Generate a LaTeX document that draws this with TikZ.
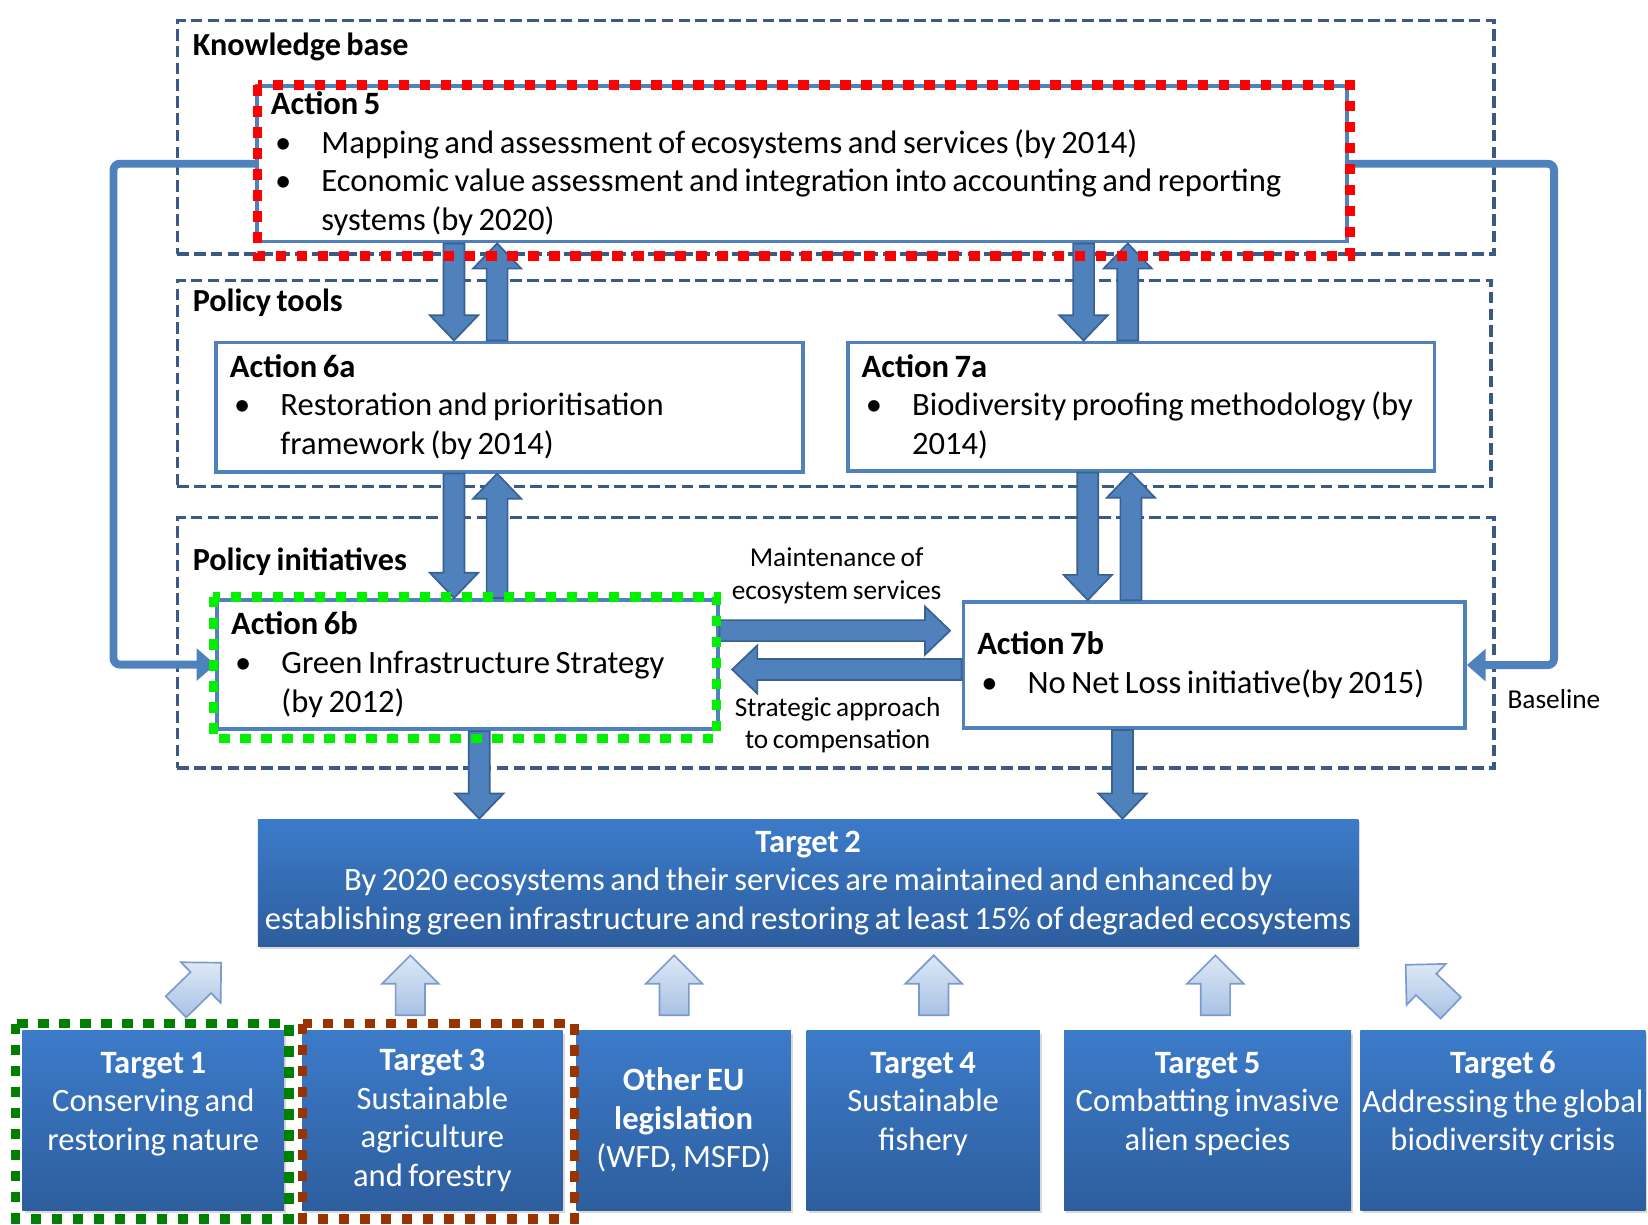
\documentclass[tikz,border=0pt]{standalone}
\usepackage{fontspec}
\setmainfont{Carlito}[WordSpace=0.75]
\usetikzlibrary{positioning,calc,arrows.meta,shadows}

\definecolor{groupline}{HTML}{3A5A85}
\definecolor{actblue}{HTML}{4F81BD}
\definecolor{arrowedge}{HTML}{3A6090}
\definecolor{tgtop}{HTML}{3C7BC9}
\definecolor{tgbot}{HTML}{2D5E9E}
\definecolor{lighttop}{HTML}{DDE8F6}
\definecolor{lightbot}{HTML}{A8C2E4}
\definecolor{lightedge}{HTML}{7A9BCB}
\definecolor{dotred}{HTML}{FF0000}
\definecolor{dotgreen}{HTML}{00F000}
\definecolor{dotdkgreen}{HTML}{008000}
\definecolor{dotbrown}{HTML}{993300}

\newcommand{\bitem}{\makebox[24pt][l]{\hspace{2pt}\textbullet}}
\newcommand{\bcont}{\hspace*{24pt}}

\begin{document}
\begin{tikzpicture}[x=0.5pt, y=-0.5pt,
    group/.style={draw=groupline, line width=1.6pt, dash pattern=on 5.5pt off 2.5pt, anchor=north west, inner sep=0},
    grouplabel/.style={anchor=west, inner sep=0, font=\bfseries\fontsize{15.3}{17}\selectfont},
    action/.style={draw=actblue, line width=1.8pt, fill=white, anchor=north west, align=flush left, inner xsep=6.5pt, inner ysep=0, font=\fontsize{15.5}{18.4}\selectfont},
    target/.style={anchor=north west, top color=tgtop, bottom color=tgbot, text=white, align=center, inner sep=0, font=\fontsize{15.5}{18.3}\selectfont, drop shadow={shadow xshift=1pt, shadow yshift=-1.5pt, opacity=0.3}},
    note/.style={inner sep=0, align=center, font=\fontsize{13}{15.5}\selectfont},
    dots/.style={line width=4.5pt, dash pattern=on 5pt off 5pt},
    feedback/.style={draw=actblue, line width=3.75pt, rounded corners=3pt, -{Triangle[width=15pt,length=9pt]}},
    blockarrow/.style n args={3}{to path={let \p1=(\tikztostart), \p2=(\tikztotarget), \n1={atan2(\y2-\y1,\x2-\x1)} in
        ($(\p1)+(\n1+90:#1)$) -- ($(\p2)+(\n1+180:#3)+(\n1+90:#1)$) -- ($(\p2)+(\n1+180:#3)+(\n1+90:#2)$) -- (\p2)
        -- ($(\p2)+(\n1+180:#3)+(\n1-90:#2)$) -- ($(\p2)+(\n1+180:#3)+(\n1-90:#1)$) -- ($(\p1)+(\n1-90:#1)$) -- cycle}},
    fatarrow/.style={blockarrow={5pt}{11.5pt}{12pt}, draw=arrowedge, fill=actblue, line width=0.8pt},
    lightarrow/.style={blockarrow={7pt}{13.5pt}{13.5pt}, draw=lightedge, top color=lighttop, bottom color=lightbot, line width=0.8pt}]

\useasboundingbox (0,0) rectangle (1568,1165);

% Groups
\node[group, minimum width=626.5pt, minimum height=111pt] (kb) at (167,18) {};
\node[group, minimum width=625pt, minimum height=98pt] (pt) at (167,265) {};
\node[group, minimum width=626.5pt, minimum height=119pt] (pi) at (167,491) {};

\node[grouplabel] (kblabel) at ($(kb.north west)+(16,27)$) {Knowledge base};
\node[grouplabel] (ptlabel) at ($(pt.north west)+(16,23)$) {Policy tools};
\node[grouplabel] (pilabel) at ($(pi.north west)+(16,43)$) {Policy initiatives};

% Actions
\node[action, text width=505.5pt, minimum height=74pt] (a5) at (243,80) {\textbf{Action 5}\\
    \bitem Mapping and assessment of ecosystems and services (by 2014)\\
    \bitem Economic value assessment and integration into accounting and reporting\\
    \bcont systems (by 2020)};
\node[action, text width=266pt, minimum height=61.5pt] (a6a) at (204,324) {\textbf{Action 6a}\\
    \bitem Restoration and prioritisation\\ \bcont framework (by 2014)};
\node[action, text width=266pt, minimum height=61pt] (a7a) at (805,324) {\textbf{Action 7a}\\
    \bitem Biodiversity proofing methodology (by\\ \bcont 2014)};
\node[action, text width=225pt, minimum height=61.5pt] (a6b) at (205,569) {\textbf{Action 6b}\\
    \bitem Green Infrastructure Strategy\\ \bcont (by 2012)};
\node[action, text width=225.5pt, minimum height=60pt] (a7b) at (915,571) {\textbf{Action 7b}\\
    \bitem No Net Loss initiative(by 2015)};

% Targets
\node[target, minimum width=523.5pt, minimum height=60.5pt] (tg2) at (245,779) {\textbf{Target 2}\\
    By 2020 ecosystems and their services are maintained and enhanced by\\
    establishing green infrastructure and restoring at least 15\% of degraded ecosystems};

\node[target, minimum width=124.5pt, minimum height=85.5pt] (t1) at (21,980) {\textbf{Target 1}\\Conserving and\\restoring nature\\\mbox{}};
\node[target, minimum width=124pt, minimum height=85.5pt] (t3) at (287,980) {\textbf{Target 3}\\Sustainable\\agriculture\\and forestry};
\node[target, minimum width=102pt, minimum height=85.5pt] (oeu) at (548,980) {\textbf{Other EU}\\\textbf{legislation}\\(WFD, MSFD)};
\node[target, minimum width=111pt, minimum height=85.5pt] (t4) at (767,980) {\textbf{Target 4}\\Sustainable\\fishery\\\mbox{}};
\node[target, minimum width=136.5pt, minimum height=85.5pt] (t5) at (1012,980) {\textbf{Target 5}\\Combatting invasive\\alien species\\\mbox{}};
\node[target, minimum width=135.5pt, minimum height=85.5pt] (t6) at (1294,980) {\textbf{Target 6}\\Addressing the global\\biodiversity crisis\\\mbox{}};

% Labels
\node[note] (maint) at (796,548) {Maintenance of\\ecosystem services};
\node[note] (strat) at (797,690) {Strategic approach\\to compensation};
\node[note, anchor=west] (base) at (1434,665) {Baseline};

% Baseline feedback
\draw[feedback] (a5.west) -- ++(-135,0) |- (a6b.west);
\draw[feedback] (a5.east) -- ++(195,0) |- (a7b.east);

% Flows between actions
\draw[fatarrow] (a5.south -| 432,0) to (a6a.north -| 432,0);
\draw[fatarrow] (a6a.north -| 473,0) to (a5.south -| 473,0);
\draw[fatarrow] (a5.south -| 1031,0) to (a7a.north -| 1031,0);
\draw[fatarrow] (a7a.north -| 1073,0) to (a5.south -| 1073,0);
\draw[fatarrow] (a6a.south -| 432,0) to (a6b.north -| 432,0);
\draw[fatarrow] (a6b.north -| 473,0) to (a6a.south -| 473,0);
\draw[fatarrow] (a7a.south -| 1035,0) to (a7b.north -| 1035,0);
\draw[fatarrow] (a7b.north -| 1076,0) to (a7a.south -| 1076,0);
\draw[fatarrow] (a6b.south -| 456,0) to (tg2.north -| 456,0);
\draw[fatarrow] (a7b.south -| 1068,0) to (tg2.north -| 1068,0);
\draw[fatarrow] (a6b.east |- 0,600) to ($(a7b.west |- 0,600)+(-11,0)$);
\draw[fatarrow] (a7b.west |- 0,637) to ($(a6b.east |- 0,637)+(12,0)$);

% Contributions to Target 2
\draw[lightarrow] ($(t1.north)+(21.5,-22)$) to ($(t1.north)+(64.5,-64)$);
\draw[lightarrow] ($(t3.north)+(-21,-14)$) to ($(t3.north)+(-21,-71)$);
\draw[lightarrow] ($(oeu.north)+(-9,-14)$) to ($(oeu.north)+(-9,-71)$);
\draw[lightarrow] ($(t4.north)+(10,-14)$) to ($(t4.north)+(10,-71)$);
\draw[lightarrow] ($(t5.north)+(7.5,-14)$) to ($(t5.north)+(7.5,-71)$);
\draw[lightarrow] ($(t6.north)+(-49.5,-21)$) to ($(t6.north)+(-92.5,-62)$);

% Highlight frames
\draw[dots, dotred] ($(a5.north west)+(2,1)$) rectangle ($(a5.south east)+(1,12)$);
\draw[dots, dotgreen] ($(a6b.north west)+(-2,-1)$) rectangle ($(a6b.south east)+(-3,7)$);
\draw[dots, dotdkgreen] ($(t1.north west)+(-6,-6)$) rectangle ($(t1.south east)+(4,8)$);
\draw[dots, dotbrown] ($(t3.north west)+(1,-6)$) rectangle ($(t3.south east)+(11,8)$);

\end{tikzpicture}
\end{document}
